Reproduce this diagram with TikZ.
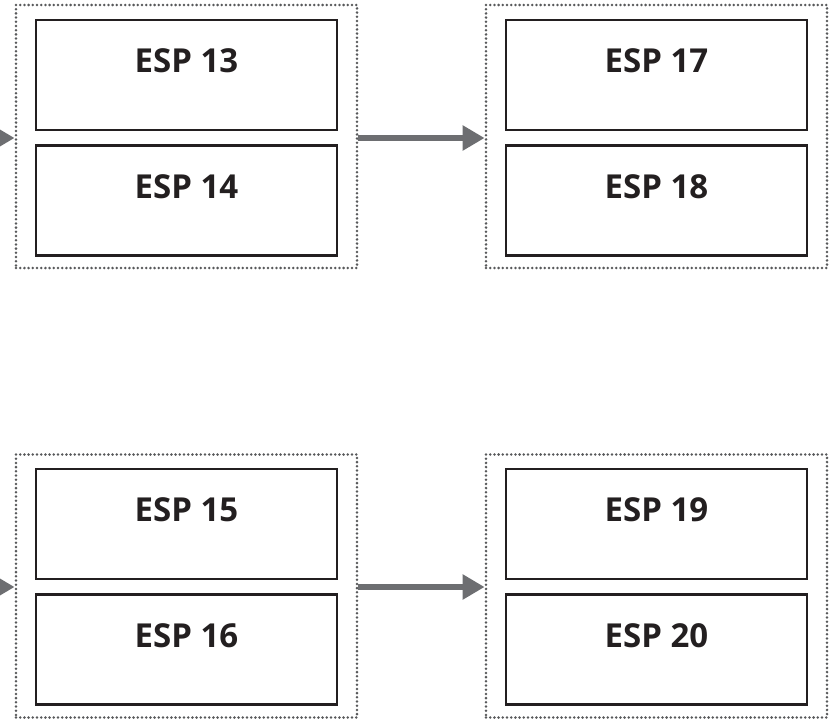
\documentclass[tikz,border=0pt]{standalone}
\usepackage{fontspec}
\setmainfont{Open Sans}
\usetikzlibrary{arrows.meta}
\definecolor{boxline}{HTML}{231F20}
\definecolor{arrgray}{HTML}{6D6E71}
\definecolor{dotgray}{HTML}{58595B}
\begin{document}
\begin{tikzpicture}[x=1pt,y=-1pt,
  group/.style={draw=dotgray, line width=2.8pt, dash pattern=on 0pt off 4.2pt, line cap=round,
    minimum width=341pt, minimum height=263pt, inner sep=0pt},
  espbox/.style={draw=boxline, line width=2.6pt, minimum width=301pt, minimum height=110pt, inner sep=0pt},
  esplabel/.style={font=\fontsize{33}{33}\selectfont\bfseries, text=boxline, inner sep=0pt},
  flow/.style={draw=arrgray, line width=5.5pt, -{Triangle[length=22pt,width=24pt]}}]
\useasboundingbox (0,0) rectangle (832,725);
\clip (0,0) rectangle (832,725);
% groups
\node[group] (g1) at (186.5,136.5) {};
\node[group] (g2) at (656.5,136.5) {};
\node[group] (g3) at (186.5,586) {};
\node[group] (g4) at (656.5,586) {};
% boxes
\node[espbox] (b13) at (186.5,75) {};
\node[espbox] (b14) at (186.5,200.5) {};
\node[espbox] (b17) at (656.5,75) {};
\node[espbox] (b18) at (656.5,200.5) {};
\node[espbox] (b15) at (186.5,524) {};
\node[espbox] (b16) at (186.5,649.5) {};
\node[espbox] (b19) at (656.5,524) {};
\node[espbox] (b20) at (656.5,649.5) {};
% labels
\node[esplabel] (t13) at ([yshift=14pt]b13.center) {ESP 13};
\node[esplabel] (t14) at ([yshift=14pt]b14.center) {ESP 14};
\node[esplabel] (t17) at ([yshift=14pt]b17.center) {ESP 17};
\node[esplabel] (t18) at ([yshift=14pt]b18.center) {ESP 18};
\node[esplabel] (t15) at ([yshift=14pt]b15.center) {ESP 15};
\node[esplabel] (t16) at ([yshift=14pt]b16.center) {ESP 16};
\node[esplabel] (t19) at ([yshift=14pt]b19.center) {ESP 19};
\node[esplabel] (t20) at ([yshift=14pt]b20.center) {ESP 20};
% arrows
\coordinate (in1) at (-40,138);
\coordinate (in3) at (-40,587);
\draw[flow] (in1) -- (g1.west |- in1);
\draw[flow] (in3) -- (g3.west |- in3);
\draw[flow] (g1.east |- in1) -- (g2.west |- in1);
\draw[flow] (g3.east |- in3) -- (g4.west |- in3);
\end{tikzpicture}
\end{document}
